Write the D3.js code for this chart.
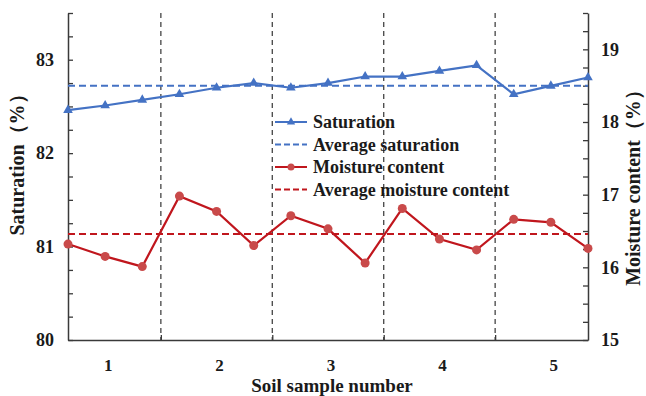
<!DOCTYPE html>
<html>
<head>
<meta charset="utf-8">
<script src="https://cdn.jsdelivr.net/npm/d3@7"></script>
<style>
  body { margin: 0; background: #fff; }
  text { font-family: "Liberation Serif", "Times New Roman", serif; font-weight: bold; fill: #1a1a1a; }
</style>
</head>
<body>
<svg id="chart" width="646" height="396"></svg>
<script>
// Data
var samples = ["1", "2", "3", "4", "5"];
var saturation = [82.46, 82.51, 82.57, 82.63, 82.70, 82.75, 82.70, 82.75, 82.82, 82.82, 82.88, 82.94, 82.63, 82.72, 82.81];
var moisture = [16.32, 16.15, 16.01, 16.98, 16.77, 16.30, 16.71, 16.53, 16.06, 16.81, 16.39, 16.24, 16.66, 16.62, 16.26];
var avgSaturation = 82.72;
var avgMoisture = 16.46;
var leftTicks = [80, 81, 82, 83];
var rightTicks = [15, 16, 17, 18, 19];
var legendItems = ["Saturation", "Average saturation", "Moisture content", "Average moisture content"];

var svg = d3.select("#chart");
var plotL = 68, plotR = 588, plotT = 13, plotB = 340;
var blue = "#4472c4", red = "#c0161d", axisColor = "#3a3a3a";

// Scales
var x = d3.scaleLinear().domain([0, saturation.length - 1]).range([plotL, plotR]);
var yL = d3.scaleLinear().domain([80, 83.5]).range([plotB, plotT]);
var yR = d3.scaleLinear().domain([15, 19.5]).range([plotB, plotT]);

// Dashed separators between soil samples
var bounds = [2.5, 5.5, 8.5, 11.5];
svg.append("g").selectAll("line")
    .data(bounds)
    .enter().append("line")
    .attr("x1", function(d) { return x(d); })
    .attr("x2", function(d) { return x(d); })
    .attr("y1", plotT)
    .attr("y2", plotB)
    .style("stroke", "#444")
    .style("stroke-width", 1.3)
    .style("stroke-dasharray", "5,4");

// Axes
var axisL = svg.append("g")
    .attr("transform", "translate(" + plotL + ",0)")
    .call(d3.axisRight(yL).tickValues(d3.range(80, 83.51, 0.25)).tickSize(5).tickSizeOuter(0).tickFormat(""));
var axisR = svg.append("g")
    .attr("transform", "translate(" + plotR + ",0)")
    .call(d3.axisLeft(yR).tickValues(d3.range(15, 19.51, 0.25)).tickSize(5).tickSizeOuter(0).tickFormat(""));
var axisB = svg.append("g")
    .attr("transform", "translate(0," + plotB + ")")
    .call(d3.axisTop(x).tickValues(bounds).tickSize(5).tickSizeOuter(0).tickFormat(""));
[axisL, axisR, axisB].forEach(function(a) {
    a.select(".domain").style("stroke", axisColor).style("stroke-width", 1.5);
    a.selectAll(".tick line").style("stroke", axisColor).style("stroke-width", 1.3);
});

// Tick labels
svg.append("g").selectAll("text")
    .data(leftTicks)
    .enter().append("text")
    .attr("x", plotL - 14)
    .attr("y", function(d) { return yL(d); })
    .attr("dy", "0.35em")
    .attr("text-anchor", "end")
    .style("font-size", "18px")
    .text(function(d) { return d; });
svg.append("g").selectAll("text")
    .data(rightTicks)
    .enter().append("text")
    .attr("x", plotR + 13)
    .attr("y", function(d) { return yR(d); })
    .attr("dy", "0.35em")
    .style("font-size", "18px")
    .text(function(d) { return d; });
svg.append("g").selectAll("text")
    .data(samples)
    .enter().append("text")
    .attr("x", function(d, i) { return x(i * 3 + 1) + 3; })
    .attr("y", 371)
    .attr("text-anchor", "middle")
    .style("font-size", "17px")
    .text(function(d) { return d; });

// Axis titles
svg.append("text")
    .attr("transform", "translate(24,160) rotate(-90)")
    .attr("text-anchor", "middle")
    .style("font-size", "20px")
    .text("Saturation（%）");
svg.append("text")
    .attr("transform", "translate(640,183) rotate(-90)")
    .attr("text-anchor", "middle")
    .style("font-size", "20px")
    .text("Moisture content（%）");
svg.append("text")
    .attr("x", 332)
    .attr("y", 392)
    .attr("text-anchor", "middle")
    .style("font-size", "19px")
    .text("Soil sample number");

// Average lines
svg.append("line")
    .attr("x1", plotL).attr("x2", plotR)
    .attr("y1", yL(avgSaturation)).attr("y2", yL(avgSaturation))
    .style("stroke", blue).style("stroke-width", 2).style("stroke-dasharray", "7,4");
svg.append("line")
    .attr("x1", plotL).attr("x2", plotR)
    .attr("y1", yR(avgMoisture)).attr("y2", yR(avgMoisture))
    .style("stroke", red).style("stroke-width", 2).style("stroke-dasharray", "7,4");

// Saturation line
svg.append("path")
    .datum(saturation)
    .attr("d", d3.line().x(function(d, i) { return x(i); }).y(function(d) { return yL(d); }))
    .style("fill", "none").style("stroke", blue).style("stroke-width", 2.2);
svg.append("g").selectAll("path")
    .data(saturation)
    .enter().append("path")
    .attr("d", d3.symbol().type(d3.symbolTriangle).size(40))
    .attr("transform", function(d, i) { return "translate(" + x(i) + "," + yL(d) + ")"; })
    .style("fill", blue);

// Moisture line
svg.append("path")
    .datum(moisture)
    .attr("d", d3.line().x(function(d, i) { return x(i); }).y(function(d) { return yR(d); }))
    .style("fill", "none").style("stroke", red).style("stroke-width", 2.2);
svg.append("g").selectAll("circle")
    .data(moisture)
    .enter().append("circle")
    .attr("cx", function(d, i) { return x(i); })
    .attr("cy", function(d) { return yR(d); })
    .attr("r", 4.5)
    .style("fill", "#c94a4a");

// Legend
var legend = svg.append("g").attr("transform", "translate(275,122)");
var rows = legend.selectAll("g")
    .data(legendItems)
    .enter().append("g")
    .attr("transform", function(d, i) { return "translate(0," + (i * 22.5) + ")"; });
rows.append("line")
    .attr("x1", 0).attr("x2", 32)
    .style("stroke", function(d, i) { return i < 2 ? blue : red; })
    .style("stroke-width", 2)
    .style("stroke-dasharray", function(d, i) { return i % 2 ? "6,3" : null; });
rows.filter(function(d, i) { return i === 0; })
    .append("path")
    .attr("d", d3.symbol().type(d3.symbolTriangle).size(30))
    .attr("transform", "translate(16,0)")
    .style("fill", blue);
rows.filter(function(d, i) { return i === 2; })
    .append("circle")
    .attr("cx", 16).attr("r", 3.5)
    .style("fill", "#c94a4a");
rows.append("text")
    .attr("x", 38)
    .attr("dy", "0.35em")
    .style("font-size", "18px")
    .text(function(d) { return d; });
</script>
</body>
</html>
